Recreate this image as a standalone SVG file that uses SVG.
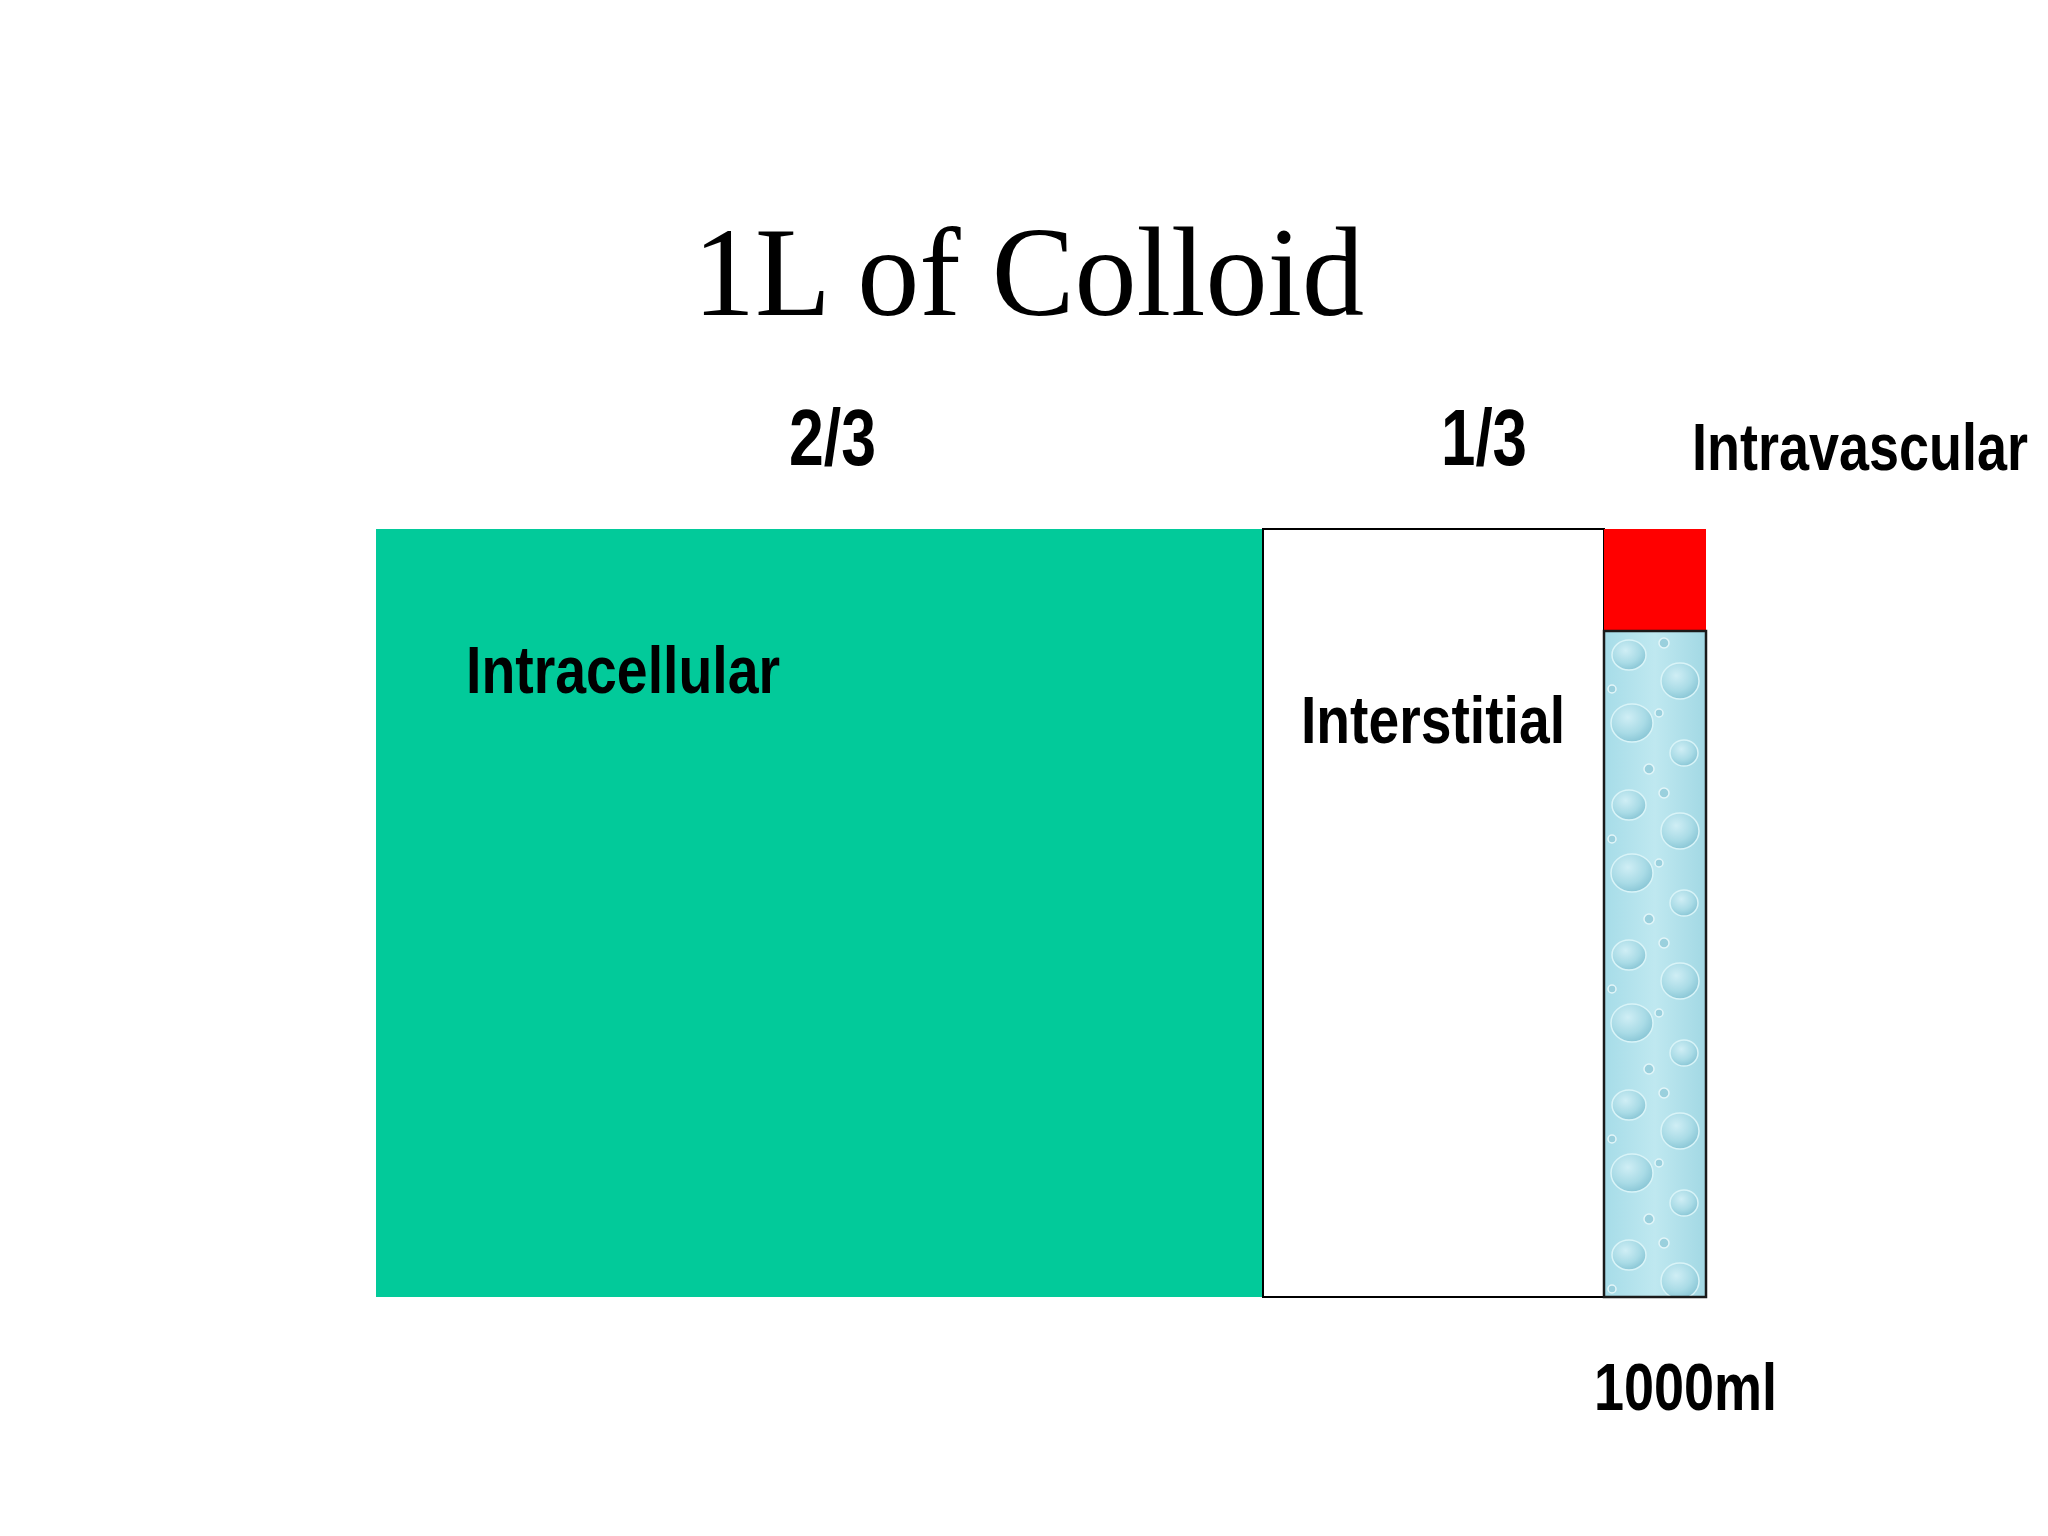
<svg xmlns="http://www.w3.org/2000/svg" width="2048" height="1536" viewBox="0 0 2048 1536">
<style>
.lbl{font-family:"Liberation Sans",Arial,sans-serif;font-weight:bold;fill:#000}
.title{font-family:"Liberation Serif","Times New Roman",serif;fill:#000}
</style>
<defs>
<radialGradient id="bub" cx="0.4" cy="0.35" r="0.7">
<stop offset="0" stop-color="#cfeef5"/>
<stop offset="0.6" stop-color="#a9dbe6"/>
<stop offset="1" stop-color="#86c4d4"/>
</radialGradient>
<linearGradient id="waterbg" x1="0" y1="0" x2="1" y2="0">
<stop offset="0" stop-color="#a6dce8"/>
<stop offset="0.5" stop-color="#bfe8f0"/>
<stop offset="1" stop-color="#a2d8e4"/>
</linearGradient>
<pattern id="water" x="1604" y="631" width="102" height="150" patternUnits="userSpaceOnUse">
<rect width="102" height="150" fill="url(#waterbg)"/>
<ellipse cx="25" cy="24" rx="17" ry="15" fill="url(#bub)" stroke="#d9f4f8" stroke-width="1.5"/>
<ellipse cx="76" cy="50" rx="19" ry="18" fill="url(#bub)" stroke="#d9f4f8" stroke-width="1.5"/>
<ellipse cx="28" cy="92" rx="21" ry="19" fill="url(#bub)" stroke="#d9f4f8" stroke-width="1.5"/>
<ellipse cx="80" cy="122" rx="14" ry="13" fill="url(#bub)" stroke="#d9f4f8" stroke-width="1.5"/>
<circle cx="60" cy="12" r="5" fill="#9ad0dd" stroke="#e2f6f9" stroke-width="1.5"/>
<circle cx="8" cy="58" r="4" fill="#9ad0dd" stroke="#e2f6f9" stroke-width="1.5"/>
<circle cx="55" cy="82" r="4" fill="#9ad0dd" stroke="#e2f6f9" stroke-width="1.5"/>
<circle cx="45" cy="138" r="5" fill="#9ad0dd" stroke="#e2f6f9" stroke-width="1.5"/>
</pattern>
</defs>
<rect width="2048" height="1536" fill="#ffffff"/>
<text class="title" x="693" y="315" font-size="126" textLength="671" lengthAdjust="spacingAndGlyphs">1L of Colloid</text>
<g id="fraction-labels">
<text class="lbl" x="789" y="465" font-size="80" textLength="87" lengthAdjust="spacingAndGlyphs">2/3</text>
<text class="lbl" x="1441" y="465" font-size="80" textLength="86" lengthAdjust="spacingAndGlyphs">1/3</text>
</g>
<g id="intracellular">
<rect x="376" y="529" width="887" height="768" fill="#02ca9a"/>
<text class="lbl" x="466" y="693" font-size="67" textLength="314" lengthAdjust="spacingAndGlyphs">Intracellular</text>
</g>
<g id="interstitial">
<rect x="1263" y="529" width="341" height="768" fill="#ffffff" stroke="#000" stroke-width="2"/>
<text class="lbl" x="1301" y="743" font-size="67" textLength="264" lengthAdjust="spacingAndGlyphs">Interstitial</text>
</g>
<g id="intravascular">
<rect x="1604" y="529" width="102" height="102" fill="#ff0000"/>
<rect x="1604" y="631" width="102" height="666" fill="url(#water)" stroke="#1a1a1a" stroke-width="2.5"/>
<text class="lbl" x="1692" y="470" font-size="66" textLength="336" lengthAdjust="spacingAndGlyphs">Intravascular</text>
</g>
<g id="volume">
<text class="lbl" x="1594" y="1410" font-size="67" textLength="183" lengthAdjust="spacingAndGlyphs">1000ml</text>
</g>
<g id="connectors"></g>
</svg>
